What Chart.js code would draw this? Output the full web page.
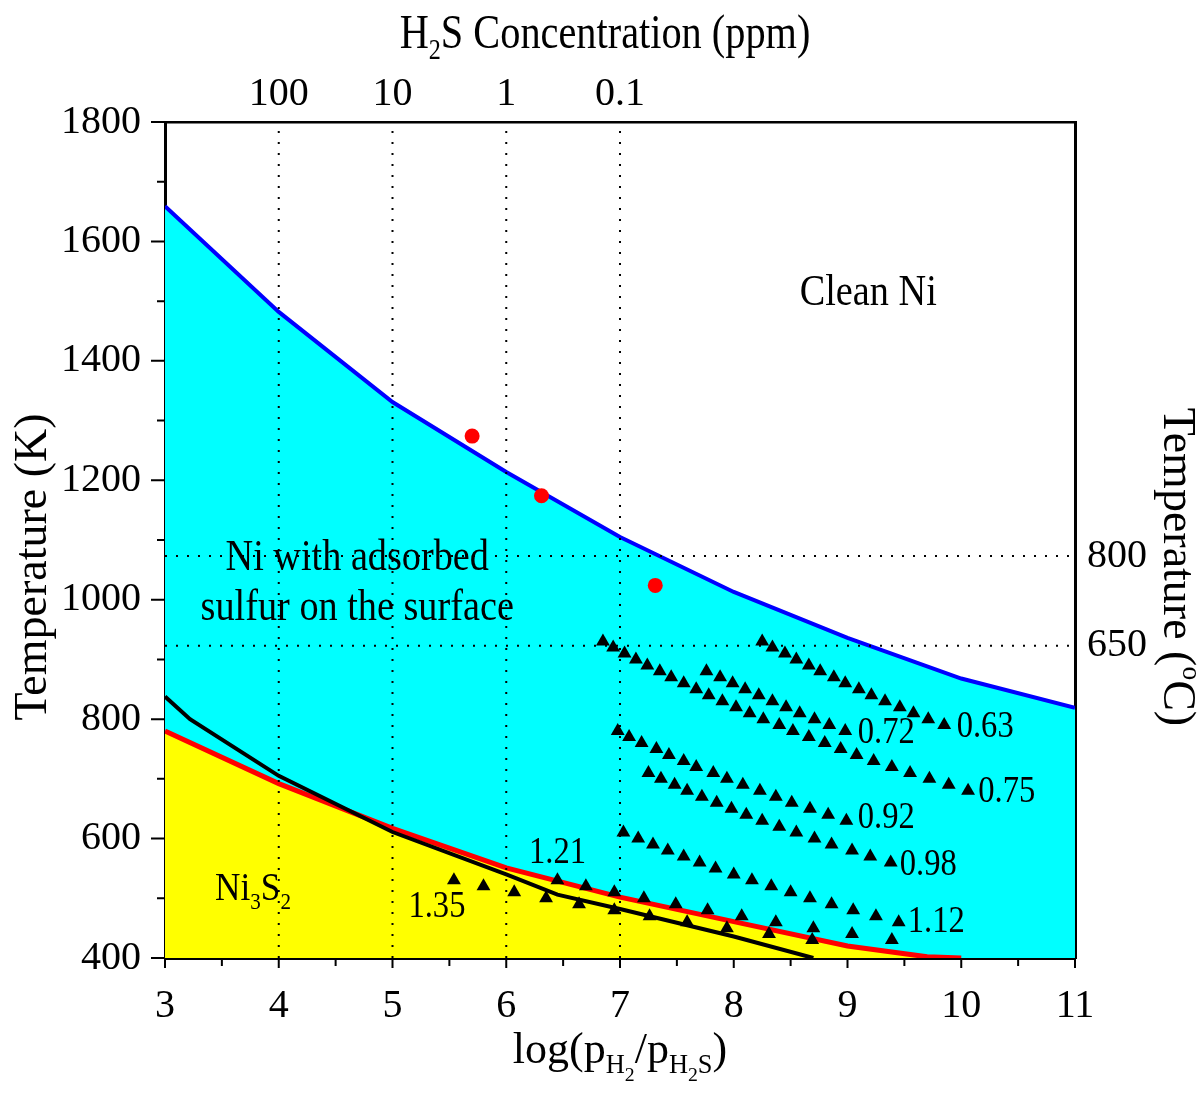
<!DOCTYPE html>
<html lang="en">
<head>
<meta charset="UTF-8" />
<title>Ni - H2S phase diagram</title>
<script src="https://cdn.jsdelivr.net/npm/chart.js"></script>
<style>
  body { margin: 0; background: #fff; }
  canvas { display: block; }
</style>
</head>
<body>
<canvas id="phase" width="1199" height="1095"></canvas>
<script>
// phase boundaries, log(pH2/pH2S) vs T (K)
const blueX = [3, 4, 5, 6, 7, 8, 9, 10, 11];
const blueT = [1659, 1482, 1331, 1214, 1105, 1013, 936, 868, 819];
const redX = [3, 4, 5, 6, 7, 8, 9, 9.7, 10];
const redT = [780, 692, 617, 551, 502, 461, 420, 402, 400];
const blackX = [3, 3.22, 4, 5, 6, 6.45, 7, 8, 8.7];
const blackT = [838, 800, 705, 611, 540, 506, 482, 436, 400];

// red circles
const dotX = [5.70, 6.31, 7.31];
const dotT = [1274, 1174, 1024];

// triangle series (label = coverage)
const s063X = [8.25, 8.34, 8.45, 8.55, 8.66, 8.76, 8.88, 8.98, 9.10, 9.21, 9.33, 9.46, 9.58, 9.71, 9.85];
const s063T = [930, 920, 910, 900, 890, 880, 870, 860, 850, 840, 830, 820, 810, 800, 790];
const s072X = [7.76, 7.88, 7.99, 8.10, 8.22, 8.34, 8.46, 8.58, 8.71, 8.84, 8.98];
const s072T = [880, 870, 860, 850, 840, 830, 820, 810, 800, 790, 780];
const s075X = [6.85, 6.94, 7.04, 7.14, 7.24, 7.35, 7.45, 7.56, 7.67, 7.78, 7.90, 8.02, 8.14,
               8.26, 8.40, 8.52, 8.66, 8.80, 8.94, 9.08, 9.23, 9.39, 9.55, 9.72, 9.89, 10.06];
const s075T = [930, 920, 910, 900, 890, 880, 870, 860, 850, 840, 830, 820, 810,
               800, 790, 780, 770, 760, 750, 740, 730, 720, 710, 700, 690, 680];
const s092X = [6.98, 7.08, 7.19, 7.32, 7.43, 7.56, 7.67, 7.82, 7.94, 8.08, 8.23, 8.37, 8.51, 8.67, 8.83, 8.99];
const s092T = [780, 770, 760, 750, 740, 730, 720, 710, 700, 690, 680, 670, 660, 650, 640, 630];
const s098X = [7.25, 7.36, 7.48, 7.59, 7.72, 7.85, 7.98, 8.11, 8.25, 8.40, 8.55, 8.71, 8.86, 9.04, 9.20, 9.38];
const s098T = [710, 700, 690, 680, 670, 660, 650, 640, 630, 620, 610, 600, 590, 580, 570, 560];
const s112X = [7.03, 7.16, 7.29, 7.42, 7.56, 7.70, 7.84, 8.00, 8.16, 8.33, 8.50, 8.67, 8.86, 9.05, 9.25, 9.45];
const s112T = [610, 600, 590, 580, 570, 560, 550, 540, 530, 520, 510, 500, 490, 480, 470, 460];
const s121X = [6.45, 6.70, 6.95, 7.21, 7.49, 7.77, 8.07, 8.37, 8.70, 9.04, 9.39];
const s121T = [530, 520, 510, 500, 490, 480, 470, 460, 450, 440, 430];
const s135X = [5.54, 5.80, 6.07, 6.35, 6.64, 6.95, 7.26, 7.59, 7.94, 8.31, 8.69];
const s135T = [530, 520, 510, 500, 490, 480, 470, 460, 450, 440, 430];

// secondary axes
const ppmLabels = ['100', '10', '1', '0.1'];
const ppmLog = [4, 5, 6, 7];
const celsiusLabels = [800, 650];

const FONT = '"Liberation Serif", "Times New Roman", serif';
const pts = (xs, ys) => xs.map((x, i) => ({ x: x, y: ys[i] }));

function boundary(xs, ys, color, width, fill, order) {
  return {
    data: pts(xs, ys), borderColor: color, borderWidth: width,
    pointRadius: 0, tension: 0, order: order,
    fill: fill ? 'start' : false, backgroundColor: fill || 'transparent'
  };
}
function triangles(xs, ys) {
  return {
    data: pts(xs, ys), showLine: false, pointStyle: 'triangle',
    pointRadius: 8, pointBackgroundColor: '#000', pointBorderWidth: 0, order: 1
  };
}
function guide(data) {
  return {
    data: data, borderColor: '#000', borderWidth: 2, borderDash: [2, 9],
    pointRadius: 0, fill: false, order: 2
  };
}

const datasets = [
  boundary(blueX, blueT, '#0000ff', 4, '#00ffff', 6),
  boundary(redX, redT, '#ff0000', 5, '#ffff00', 5),
  boundary(blackX, blackT, '#000000', 4, null, 4),
  ...ppmLog.map(v => guide([{ x: v, y: 400 }, { x: v, y: 1800 }])),
  ...celsiusLabels.map(c => guide([{ x: 3, y: c + 273 }, { x: 11, y: c + 273 }])),
  triangles(s063X, s063T), triangles(s072X, s072T), triangles(s075X, s075T),
  triangles(s092X, s092T), triangles(s098X, s098T), triangles(s112X, s112T),
  triangles(s121X, s121T), triangles(s135X, s135T),
  {
    data: pts(dotX, dotT), showLine: false, pointStyle: 'circle', pointRadius: 7.5,
    pointBackgroundColor: '#ff0000', pointBorderWidth: 0, order: 0
  }
];

// text with sub/superscripts; lv 0 normal, 1 sub, 2 sub of sub, -1 sup
function richText(ctx, parts, x, y, size, align, sx) {
  const items = parts.map(([t, lv]) => {
    const fs = lv === 0 ? size : (lv === 2 ? size * 0.45 : size * 0.6);
    const dy = lv === 1 ? size * 0.22 : lv === 2 ? size * 0.42 : lv === -1 ? -size * 0.42 : 0;
    ctx.font = fs + 'px ' + FONT;
    return { t: t, fs: fs, dy: dy, w: ctx.measureText(t).width };
  });
  const total = items.reduce((s, it) => s + it.w, 0);
  ctx.save();
  ctx.translate(x, y);
  ctx.scale(sx, 1);
  ctx.fillStyle = '#000';
  ctx.textBaseline = 'alphabetic';
  let cx = align === 'center' ? -total / 2 : align === 'right' ? -total : 0;
  items.forEach(it => {
    ctx.font = it.fs + 'px ' + FONT;
    ctx.fillText(it.t, cx, it.dy);
    cx += it.w;
  });
  ctx.restore();
}

// labels inside the plot, placed at data coordinates (x, T at baseline)
const notes = [
  { parts: [['Clean Ni', 0]], x: 8.58, t: 1494, align: 'left', size: 45, sx: 0.85 },
  { parts: [['Ni with adsorbed', 0]], x: 4.69, t: 1050, align: 'center', size: 45, sx: 0.85 },
  { parts: [['sulfur on the surface', 0]], x: 4.69, t: 966, align: 'center', size: 45, sx: 0.85 },
  { parts: [['Ni', 0], ['3', 1], ['S', 0], ['2', 1]], x: 3.44, t: 497, align: 'left', size: 40, sx: 0.88 },
  { parts: [['0.72', 0]], x: 9.09, t: 760, align: 'left', size: 37, sx: 0.88 },
  { parts: [['0.63', 0]], x: 9.96, t: 770, align: 'left', size: 37, sx: 0.88 },
  { parts: [['0.75', 0]], x: 10.15, t: 661, align: 'left', size: 37, sx: 0.88 },
  { parts: [['0.92', 0]], x: 9.09, t: 618, align: 'left', size: 37, sx: 0.88 },
  { parts: [['0.98', 0]], x: 9.46, t: 539, align: 'left', size: 37, sx: 0.88 },
  { parts: [['1.12', 0]], x: 9.53, t: 444, align: 'left', size: 37, sx: 0.88 },
  { parts: [['1.21', 0]], x: 6.20, t: 559, align: 'left', size: 37, sx: 0.88 },
  { parts: [['1.35', 0]], x: 5.14, t: 469, align: 'left', size: 37, sx: 0.88 }
];

const annotate = {
  id: 'annotate',
  afterDatasetsDraw(chart) {
    const { ctx, scales: { x, y } } = chart;
    notes.forEach(n => {
      richText(ctx, n.parts, x.getPixelForValue(n.x), y.getPixelForValue(n.t), n.size, n.align, n.sx);
    });
  },
  afterDraw(chart) {
    const { ctx, chartArea: a, scales: { x, y } } = chart;
    // tick marks, major and minor, pointing outwards
    ctx.save();
    ctx.strokeStyle = '#000';
    ctx.lineWidth = 2;
    ctx.beginPath();
    y.ticks.forEach((tk, i) => {
      const p = y.getPixelForValue(tk.value);
      ctx.moveTo(a.left, p); ctx.lineTo(a.left - 14, p);
      if (i < y.ticks.length - 1) {
        const m = y.getPixelForValue((tk.value + y.ticks[i + 1].value) / 2);
        ctx.moveTo(a.left, m); ctx.lineTo(a.left - 8, m);
      }
    });
    x.ticks.forEach((tk, i) => {
      const p = x.getPixelForValue(tk.value);
      ctx.moveTo(p, a.bottom); ctx.lineTo(p, a.bottom + 10);
      if (i < x.ticks.length - 1) {
        const m = x.getPixelForValue((tk.value + x.ticks[i + 1].value) / 2);
        ctx.moveTo(m, a.bottom); ctx.lineTo(m, a.bottom + 8);
      }
    });
    ctx.stroke();
    ctx.restore();

    // axis titles
    richText(ctx, [['log(p', 0], ['H', 1], ['2', 2], ['/p', 0], ['H', 1], ['2', 2], ['S', 1], [')', 0]],
      (a.left + a.right) / 2, 1063, 44, 'center', 1);
    richText(ctx, [['H', 0], ['2', 1], ['S Concentration (ppm)', 0]], 605, 48, 48, 'center', 0.84);
    ctx.save();
    ctx.translate(46, 567);
    ctx.rotate(-Math.PI / 2);
    richText(ctx, [['Temperature (K)', 0]], 0, 0, 46, 'center', 1);
    ctx.restore();
    ctx.save();
    ctx.translate(1164, 567);
    ctx.rotate(Math.PI / 2);
    richText(ctx, [['Temperature (', 0], ['o', -1], ['C)', 0]], 0, 0, 46, 'center', 1);
    ctx.restore();
  }
};

const tickFont = { family: FONT, size: 40 };
const noGrid = { drawOnChartArea: false, drawTicks: false };

new Chart(document.getElementById('phase'), {
  type: 'line',
  data: { datasets: datasets },
  options: {
    responsive: false,
    animation: false,
    layout: { padding: 0 },
    plugins: { legend: { display: false }, tooltip: { enabled: false } },
    scales: {
      x: {
        type: 'linear', position: 'bottom', min: 3, max: 11,
        ticks: { stepSize: 1, padding: 24, font: tickFont, color: '#000', callback: v => String(v) },
        grid: noGrid, border: { width: 3, color: '#000' },
        afterFit: s => { s.height = 137; }
      },
      x2: {
        type: 'linear', position: 'top', min: 3, max: 11,
        afterBuildTicks: s => { s.ticks = ppmLog.map(v => ({ value: v })); },
        ticks: { callback: v => ppmLabels[ppmLog.indexOf(v)], padding: 4, font: tickFont, color: '#000' },
        grid: noGrid, border: { width: 2.5, color: '#000' },
        afterFit: s => { s.height = 122; }
      },
      y: {
        type: 'linear', position: 'left', min: 400, max: 1800,
        ticks: { stepSize: 200, padding: 24, font: tickFont, color: '#000', callback: v => String(v) },
        grid: noGrid, border: { width: 3, color: '#000' },
        afterFit: s => { s.width = 165; }
      },
      y2: {
        type: 'linear', position: 'right', min: 400, max: 1800,
        afterBuildTicks: s => { s.ticks = celsiusLabels.map(c => ({ value: c + 273 })); },
        ticks: { callback: v => String(celsiusLabels.find(c => c + 273 === v)), padding: 12, font: tickFont, color: '#000' },
        grid: noGrid, border: { width: 3, color: '#000' },
        afterFit: s => { s.width = 124; }
      }
    }
  },
  plugins: [annotate]
});
</script>
</body>
</html>
